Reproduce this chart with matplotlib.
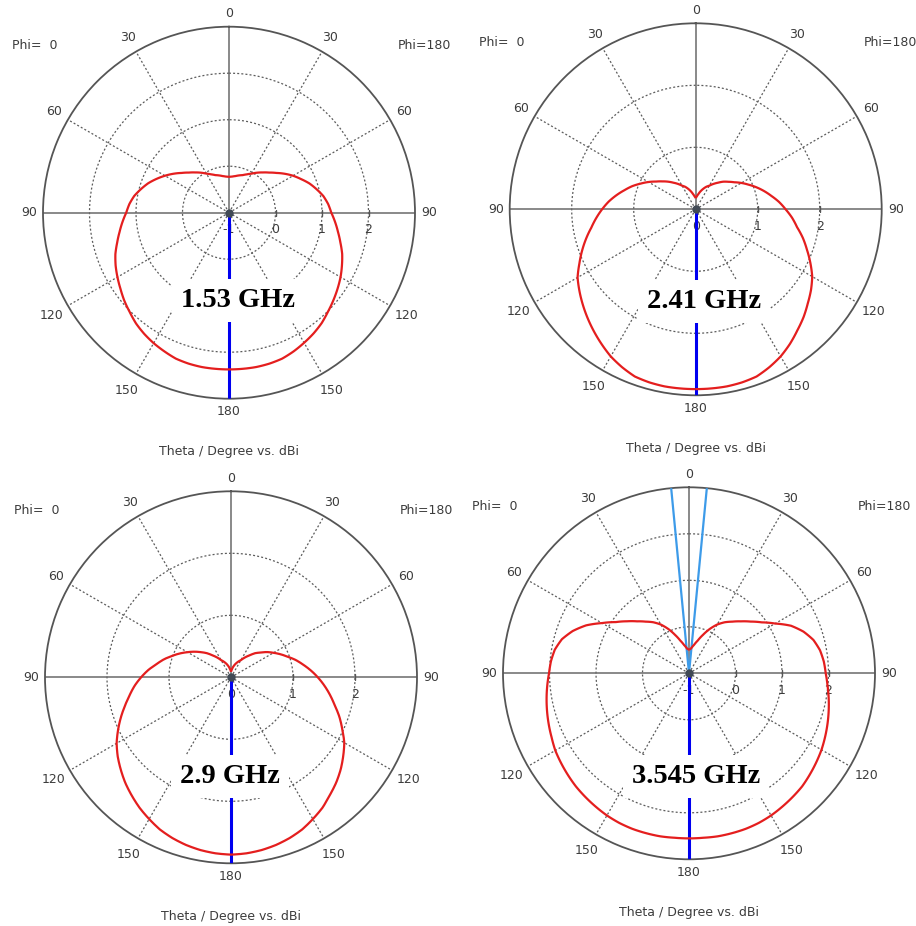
import numpy as np
import matplotlib
matplotlib.use("Agg")
import matplotlib.pyplot as plt
from matplotlib.path import Path
from matplotlib.patches import PathPatch

# Theta sample points (deg) of the far-field cuts
theta_deg = [0, 5, 10, 15, 20, 25, 30, 35, 40, 45, 50, 55, 60, 65, 70, 75, 80, 85, 90,
             95, 100, 105, 110, 115, 120, 125, 130, 135, 140, 145, 150, 155, 160,
             165, 170, 175, 180]

# Realized gain (dBi) along the Phi=0 (left half) and Phi=180 (right half) cuts
gain_1530_phi0 = [-0.23, -0.22, -0.20, -0.17, -0.14, -0.09, -0.03, 0.05, 0.13, 0.22,
                  0.33, 0.46, 0.59, 0.72, 0.85, 0.96, 1.07, 1.15, 1.21, 1.30, 1.39,
                  1.49, 1.60, 1.69, 1.77, 1.85, 1.94, 2.02, 2.11, 2.18, 2.24, 2.29,
                  2.34, 2.36, 2.37, 2.37, 2.37]
gain_1530_phi180 = [-0.23, -0.22, -0.20, -0.17, -0.14, -0.09, -0.03, 0.05, 0.13, 0.22,
                    0.33, 0.46, 0.59, 0.71, 0.84, 0.95, 1.06, 1.14, 1.20, 1.29, 1.38,
                    1.48, 1.59, 1.68, 1.77, 1.85, 1.93, 2.01, 2.10, 2.17, 2.23, 2.29,
                    2.34, 2.36, 2.37, 2.37, 2.37]

gain_2410_phi0 = [0.18, 0.21, 0.25, 0.30, 0.35, 0.40, 0.44, 0.50, 0.56, 0.63, 0.70,
                  0.78, 0.88, 0.98, 1.09, 1.19, 1.30, 1.41, 1.51, 1.61, 1.71, 1.83,
                  1.95, 2.07, 2.20, 2.29, 2.38, 2.47, 2.56, 2.65, 2.74, 2.81, 2.87,
                  2.89, 2.90, 2.90, 2.90]
gain_2410_phi180 = [0.18, 0.21, 0.25, 0.30, 0.35, 0.40, 0.44, 0.50, 0.56, 0.63, 0.69,
                    0.76, 0.85, 0.94, 1.04, 1.14, 1.24, 1.35, 1.45, 1.56, 1.66, 1.79,
                    1.91, 2.04, 2.17, 2.27, 2.36, 2.46, 2.55, 2.65, 2.74, 2.81, 2.87,
                    2.89, 2.90, 2.90, 2.90]

gain_2900_phi0 = [0.09, 0.12, 0.16, 0.20, 0.24, 0.28, 0.32, 0.39, 0.46, 0.55, 0.63,
                  0.72, 0.81, 0.91, 1.01, 1.12, 1.22, 1.34, 1.45, 1.56, 1.66, 1.77,
                  1.89, 2.01, 2.13, 2.23, 2.32, 2.41, 2.49, 2.57, 2.64, 2.71, 2.76,
                  2.80, 2.83, 2.85, 2.86]
gain_2900_phi180 = [0.09, 0.12, 0.16, 0.20, 0.24, 0.28, 0.32, 0.39, 0.46, 0.55, 0.62,
                    0.71, 0.79, 0.88, 0.97, 1.08, 1.18, 1.29, 1.40, 1.51, 1.62, 1.73,
                    1.86, 1.98, 2.11, 2.21, 2.31, 2.40, 2.48, 2.57, 2.64, 2.71, 2.76,
                    2.80, 2.83, 2.85, 2.86]

gain_3545_phi0 = [-0.50, -0.46, -0.38, -0.27, -0.12, 0.05, 0.21, 0.34, 0.45, 0.58,
                  0.74, 0.92, 1.16, 1.44, 1.66, 1.83, 1.93, 1.98, 2.01, 2.06, 2.11,
                  2.16, 2.21, 2.26, 2.32, 2.36, 2.40, 2.44, 2.47, 2.50, 2.53, 2.55,
                  2.56, 2.56, 2.56, 2.55, 2.55]
gain_3545_phi180 = [-0.50, -0.46, -0.38, -0.27, -0.12, 0.05, 0.21, 0.34, 0.45, 0.58,
                    0.73, 0.91, 1.14, 1.42, 1.62, 1.77, 1.86, 1.91, 1.94, 1.99, 2.05,
                    2.11, 2.17, 2.23, 2.29, 2.34, 2.39, 2.44, 2.47, 2.50, 2.53, 2.55,
                    2.56, 2.56, 2.56, 2.55, 2.55]

freq_labels = ["1.53 GHz", "2.41 GHz", "2.9 GHz", "3.545 GHz"]
r_min = [-1, 0, 0, -1]
r_max = [3, 3, 3, 3]
ring_ticks = [[0, 1, 2], [1, 2], [1, 2], [0, 1, 2]]
main_lobe_deg = [180, 180, 180, 180]
beam_edges_3545 = [-5.5, 5.5]
angle_ticks = [0, 30, 60, 90, 120, 150, 180]

# Layout (pixels): plot centres, outer radius, label offsets
W, H, RAD = 916, 926, 186
centers = [(229, 212.7), (695.7, 209.3), (231, 677.3), (689, 673.3)]
label_offsets = [(9, 88), (8.5, 92), (-1, 99.5), (7, 103.5)]
label_radius_px = {0: 199, 30: 202, 60: 202, 90: 200, 120: 205, 150: 205, 180: 199}

TXT = "#3c3c3c"
GRID = "#5c5c5c"
RED = "#e41e1e"
BLUE = "#0000f0"
LIGHTBLUE = "#3d9be9"
DOT = (0, (1.6, 1.7))

fig = plt.figure(figsize=(W / 100, H / 100), dpi=100)


def pattern_patch(ax, theta, gain):
    # polar path whose segments are traced along (theta, r) rather than as chords
    path = Path(np.column_stack([theta, gain]), _interpolation_steps=8)
    return PathPatch(path, transform=ax.transData, fill=False, ec=RED, lw=1.6,
                     zorder=5, joinstyle="round")


def draw_panel(idx, phi0, phi180, beam_edges=None):
    cx, cy = centers[idx]
    rmin, rmax = r_min[idx], r_max[idx]
    span = rmax - rmin
    ax = fig.add_axes([(cx - RAD) / W, (H - cy - RAD) / H, 2 * RAD / W, 2 * RAD / H],
                      projection="polar")
    ax.set_theta_zero_location("N")
    ax.set_theta_direction(1)
    ax.set_ylim(rmin, rmax)
    ax.set_xticks([])
    ax.set_yticks([])
    ax.grid(False)
    ax.spines["polar"].set_color("#555555")
    ax.spines["polar"].set_linewidth(1.3)

    # dotted rings and radial spokes
    t = np.linspace(0, 2 * np.pi, 361)
    for r in ring_ticks[idx]:
        ax.plot(t, np.full_like(t, r), ls=DOT, color=GRID, lw=0.9, zorder=1)
    for a in (30, 60, 120, 150):
        for s in (1, -1):
            ax.plot([np.deg2rad(s * a)] * 2, [rmin, rmax], ls=DOT, color=GRID,
                    lw=0.9, zorder=1)
    # solid cross-hair axes
    for a in (0, 90, 180, -90):
        ax.plot([np.deg2rad(a)] * 2, [rmin, rmax], color="#6a6a6a", lw=1.1,
                zorder=1.5)
    ax.plot([np.deg2rad(-90)] * len(ring_ticks[idx]), ring_ticks[idx], ls="none",
            marker="|", ms=5, mew=1.0, color="#555555", zorder=1.6)

    # radial tick labels below the horizontal axis
    for r in [rmin] + ring_ticks[idx]:
        ax.annotate(f"{r:g}", (np.deg2rad(-90), r), xytext=(0, -17),
                    textcoords="offset pixels", ha="center", va="center",
                    fontsize=9, color=TXT, zorder=2.5)

    # theta labels around the rim (Phi=0 left, Phi=180 right)
    for a in angle_ticks:
        rl = rmin + span * label_radius_px[a] / RAD
        sides = (1,) if a in (0, 180) else (1, -1)
        for s in sides:
            ax.text(np.deg2rad(s * a), rl, str(a), ha="center", va="center",
                    fontsize=9, color=TXT)

    # main lobe direction and angular width markers
    ml = np.deg2rad(main_lobe_deg[idx])
    ax.plot([ml, ml], [rmin, rmax], color=BLUE, lw=2.2, zorder=3,
            solid_capstyle="butt")
    if beam_edges is not None:
        for e in beam_edges:
            ax.plot([np.deg2rad(e)] * 2, [rmin, rmax], color=LIGHTBLUE, lw=1.6,
                    zorder=3)

    # frequency label on a white box
    dx, dy = label_offsets[idx]
    ax.text(0.5 + dx / (2 * RAD), 0.5 - dy / (2 * RAD), freq_labels[idx],
            transform=ax.transAxes, ha="center", va="center",
            family="Liberation Serif", fontweight="bold", fontsize=20.5,
            color="black", zorder=4,
            bbox=dict(boxstyle="square,pad=0.32", fc="white", ec="none"))

    # gain pattern
    th = np.deg2rad(theta_deg)
    ax.add_patch(pattern_patch(ax, th, phi0))
    ax.add_patch(pattern_patch(ax, -th, phi180))
    ax.plot([0], [rmin], "o", ms=5, color="#414a55", zorder=6)

    # cut labels and axis caption
    ax.text(0.5 - 194 / (2 * RAD), 0.5 + 167 / (2 * RAD), "Phi=  0",
            transform=ax.transAxes, ha="center", va="center", fontsize=9, color=TXT)
    ax.text(0.5 + 195 / (2 * RAD), 0.5 + 167 / (2 * RAD), "Phi=180",
            transform=ax.transAxes, ha="center", va="center", fontsize=9, color=TXT)
    ax.text(0.5, 0.5 - 239 / (2 * RAD), "Theta / Degree vs. dBi",
            transform=ax.transAxes, ha="center", va="center", fontsize=9, color=TXT)


draw_panel(0, gain_1530_phi0, gain_1530_phi180)
draw_panel(1, gain_2410_phi0, gain_2410_phi180)
draw_panel(2, gain_2900_phi0, gain_2900_phi180)
draw_panel(3, gain_3545_phi0, gain_3545_phi180, beam_edges=beam_edges_3545)

fig.savefig("out.png", dpi=100, facecolor="white")
